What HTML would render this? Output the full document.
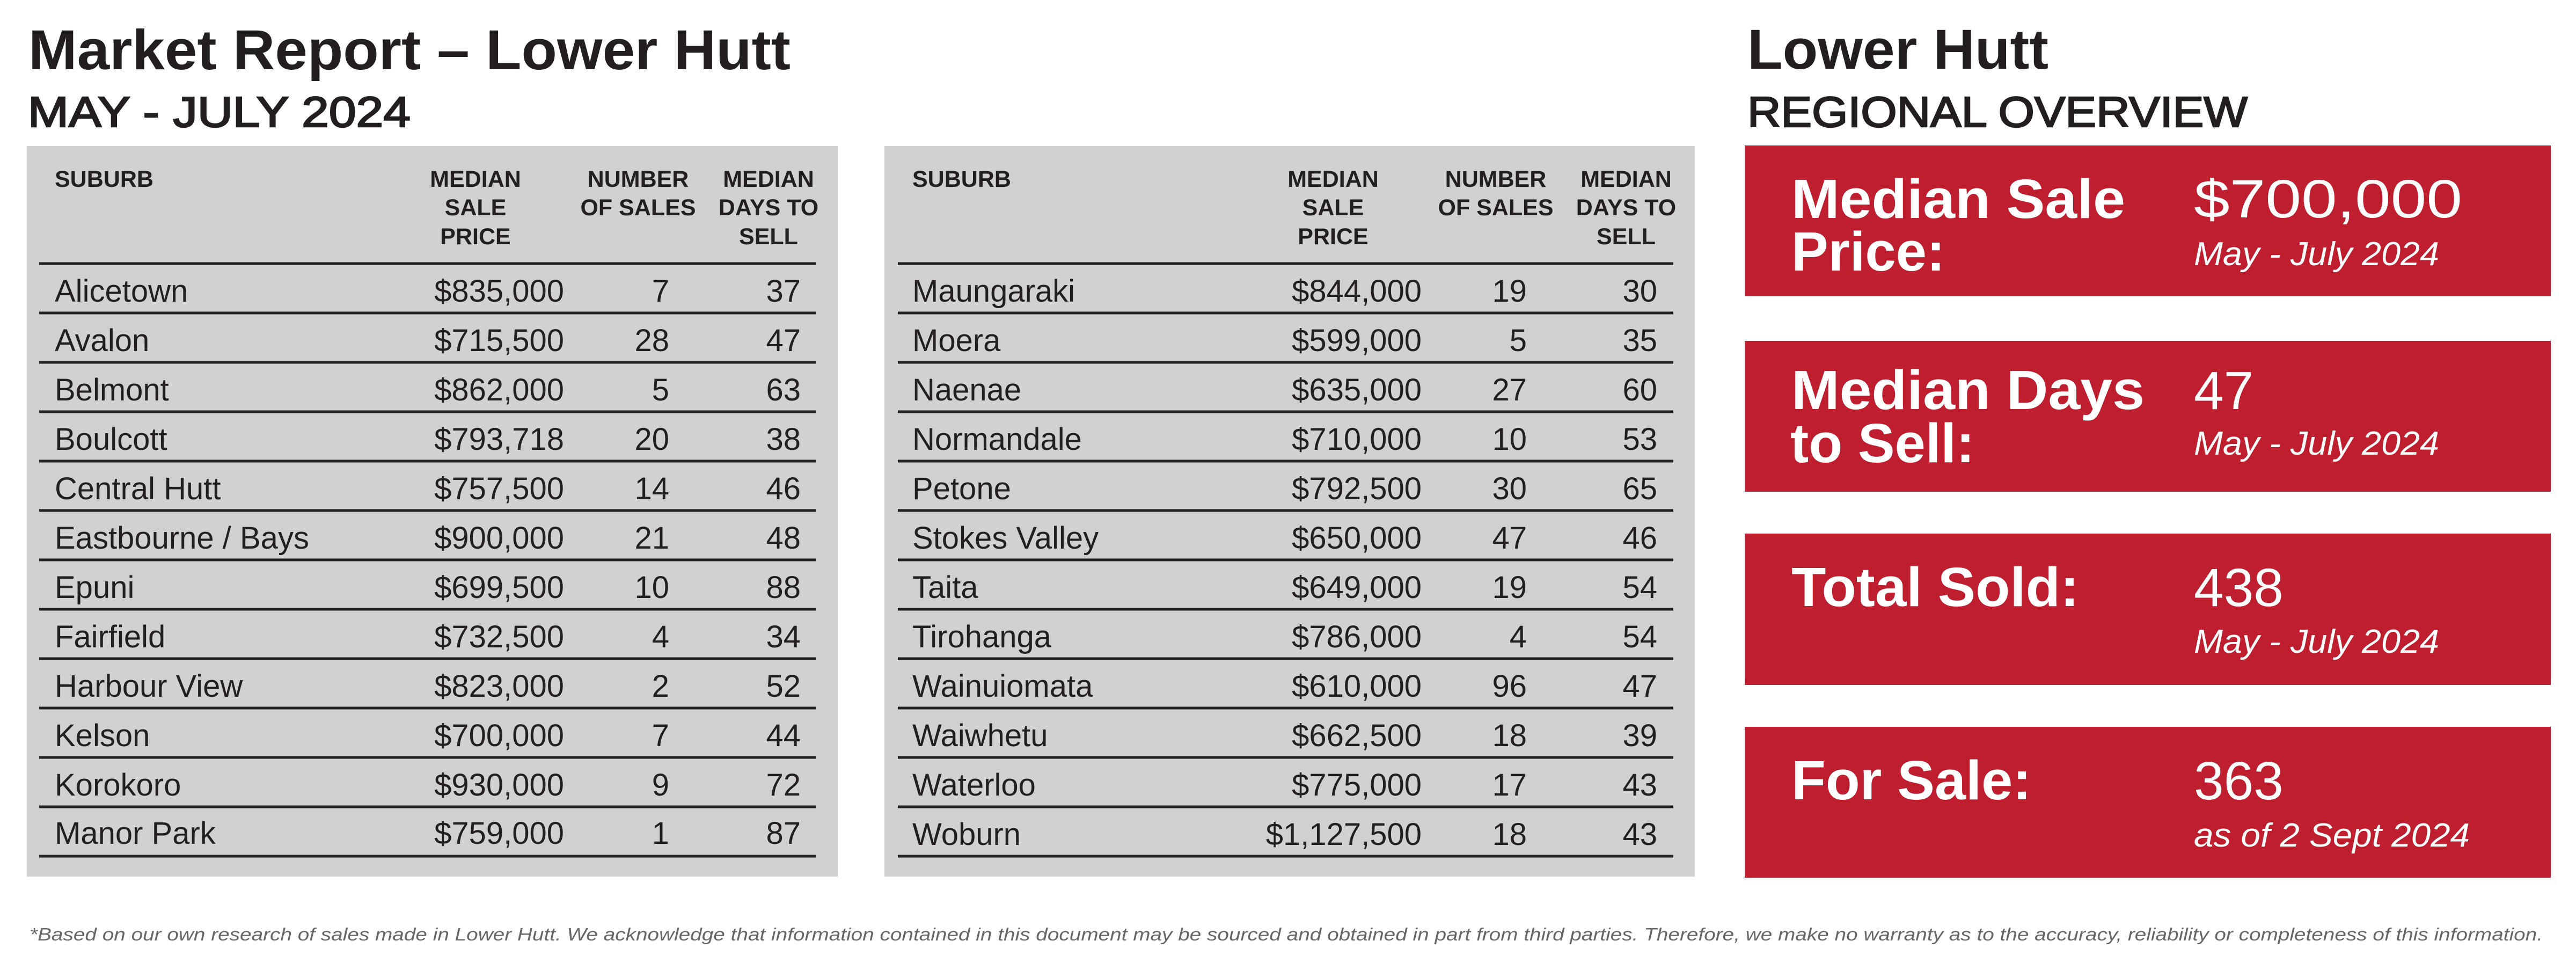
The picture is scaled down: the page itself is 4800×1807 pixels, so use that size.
<!DOCTYPE html>
<html><head><meta charset="utf-8"><style>
html,body{margin:0;padding:0;background:#fff;}
svg{display:block;}
text{font-family:"Liberation Sans",sans-serif;}
</style></head><body>
<svg width="4800" height="1807" viewBox="0 0 4800 1807" xmlns="http://www.w3.org/2000/svg">
<rect width="4800" height="1807" fill="#fff"/>
<g fill="#231f20">
<text x="53" y="129" font-size="105" font-weight="bold" textLength="1420" lengthAdjust="spacingAndGlyphs">Market Report – Lower Hutt</text>
<text x="52" y="236" font-size="80" stroke="#231f20" stroke-width="2.5" textLength="713" lengthAdjust="spacingAndGlyphs">MAY - JULY 2024</text>
<text x="3256" y="128" font-size="105" font-weight="bold" textLength="561" lengthAdjust="spacingAndGlyphs">Lower Hutt</text>
<text x="3256" y="236" font-size="80" stroke="#231f20" stroke-width="2.5" textLength="932" lengthAdjust="spacingAndGlyphs">REGIONAL OVERVIEW</text>
</g>
<rect x="50" y="272" width="1511" height="1361" fill="#d1d1d1"/>
<rect x="1648" y="272" width="1510" height="1361" fill="#d1d1d1"/>
<g fill="#231f20">
<g font-size="43" font-weight="bold">
<text x="102" y="348">SUBURB</text>
<text x="886" y="348" text-anchor="middle">MEDIAN</text>
<text x="886" y="401" text-anchor="middle">SALE</text>
<text x="886" y="455" text-anchor="middle">PRICE</text>
<text x="1189" y="348" text-anchor="middle">NUMBER</text>
<text x="1189" y="401" text-anchor="middle">OF SALES</text>
<text x="1432" y="348" text-anchor="middle">MEDIAN</text>
<text x="1432" y="401" text-anchor="middle">DAYS TO</text>
<text x="1432" y="455" text-anchor="middle">SELL</text>
</g>
<g stroke="#231f20" stroke-width="5">
<line x1="73" x2="1520" y1="491" y2="491"/>
<line x1="73" x2="1520" y1="583" y2="583"/>
<line x1="73" x2="1520" y1="675" y2="675"/>
<line x1="73" x2="1520" y1="767" y2="767"/>
<line x1="73" x2="1520" y1="859" y2="859"/>
<line x1="73" x2="1520" y1="951" y2="951"/>
<line x1="73" x2="1520" y1="1043" y2="1043"/>
<line x1="73" x2="1520" y1="1135" y2="1135"/>
<line x1="73" x2="1520" y1="1227" y2="1227"/>
<line x1="73" x2="1520" y1="1319" y2="1319"/>
<line x1="73" x2="1520" y1="1411" y2="1411"/>
<line x1="73" x2="1520" y1="1503" y2="1503"/>
<line x1="73" x2="1520" y1="1595" y2="1595"/>
</g>
</g>
<g transform="translate(1598,0)" fill="#231f20">
<g font-size="43" font-weight="bold">
<text x="102" y="348">SUBURB</text>
<text x="886" y="348" text-anchor="middle">MEDIAN</text>
<text x="886" y="401" text-anchor="middle">SALE</text>
<text x="886" y="455" text-anchor="middle">PRICE</text>
<text x="1189" y="348" text-anchor="middle">NUMBER</text>
<text x="1189" y="401" text-anchor="middle">OF SALES</text>
<text x="1432" y="348" text-anchor="middle">MEDIAN</text>
<text x="1432" y="401" text-anchor="middle">DAYS TO</text>
<text x="1432" y="455" text-anchor="middle">SELL</text>
</g>
<g stroke="#231f20" stroke-width="5">
<line x1="75" x2="1520" y1="491" y2="491"/>
<line x1="75" x2="1520" y1="583" y2="583"/>
<line x1="75" x2="1520" y1="675" y2="675"/>
<line x1="75" x2="1520" y1="767" y2="767"/>
<line x1="75" x2="1520" y1="859" y2="859"/>
<line x1="75" x2="1520" y1="951" y2="951"/>
<line x1="75" x2="1520" y1="1043" y2="1043"/>
<line x1="75" x2="1520" y1="1135" y2="1135"/>
<line x1="75" x2="1520" y1="1227" y2="1227"/>
<line x1="75" x2="1520" y1="1319" y2="1319"/>
<line x1="75" x2="1520" y1="1411" y2="1411"/>
<line x1="75" x2="1520" y1="1503" y2="1503"/>
<line x1="75" x2="1520" y1="1595" y2="1595"/>
</g>
</g>
<g fill="#231f20" font-size="58">
<g>
<text x="102" y="562">Alicetown</text><text x="1051" y="562" text-anchor="end">$835,000</text><text x="1247" y="562" text-anchor="end">7</text><text x="1492" y="562" text-anchor="end">37</text>
<text x="102" y="654">Avalon</text><text x="1051" y="654" text-anchor="end">$715,500</text><text x="1247" y="654" text-anchor="end">28</text><text x="1492" y="654" text-anchor="end">47</text>
<text x="102" y="746">Belmont</text><text x="1051" y="746" text-anchor="end">$862,000</text><text x="1247" y="746" text-anchor="end">5</text><text x="1492" y="746" text-anchor="end">63</text>
<text x="102" y="838">Boulcott</text><text x="1051" y="838" text-anchor="end">$793,718</text><text x="1247" y="838" text-anchor="end">20</text><text x="1492" y="838" text-anchor="end">38</text>
<text x="102" y="930">Central Hutt</text><text x="1051" y="930" text-anchor="end">$757,500</text><text x="1247" y="930" text-anchor="end">14</text><text x="1492" y="930" text-anchor="end">46</text>
<text x="102" y="1022">Eastbourne / Bays</text><text x="1051" y="1022" text-anchor="end">$900,000</text><text x="1247" y="1022" text-anchor="end">21</text><text x="1492" y="1022" text-anchor="end">48</text>
<text x="102" y="1114">Epuni</text><text x="1051" y="1114" text-anchor="end">$699,500</text><text x="1247" y="1114" text-anchor="end">10</text><text x="1492" y="1114" text-anchor="end">88</text>
<text x="102" y="1206">Fairfield</text><text x="1051" y="1206" text-anchor="end">$732,500</text><text x="1247" y="1206" text-anchor="end">4</text><text x="1492" y="1206" text-anchor="end">34</text>
<text x="102" y="1298">Harbour View</text><text x="1051" y="1298" text-anchor="end">$823,000</text><text x="1247" y="1298" text-anchor="end">2</text><text x="1492" y="1298" text-anchor="end">52</text>
<text x="102" y="1390">Kelson</text><text x="1051" y="1390" text-anchor="end">$700,000</text><text x="1247" y="1390" text-anchor="end">7</text><text x="1492" y="1390" text-anchor="end">44</text>
<text x="102" y="1482">Korokoro</text><text x="1051" y="1482" text-anchor="end">$930,000</text><text x="1247" y="1482" text-anchor="end">9</text><text x="1492" y="1482" text-anchor="end">72</text>
<text x="102" y="1572">Manor Park</text><text x="1051" y="1572" text-anchor="end">$759,000</text><text x="1247" y="1572" text-anchor="end">1</text><text x="1492" y="1572" text-anchor="end">87</text>
</g>
<g transform="translate(1598,0)">
<text x="102" y="562">Maungaraki</text><text x="1051" y="562" text-anchor="end">$844,000</text><text x="1247" y="562" text-anchor="end">19</text><text x="1490" y="562" text-anchor="end">30</text>
<text x="102" y="654">Moera</text><text x="1051" y="654" text-anchor="end">$599,000</text><text x="1247" y="654" text-anchor="end">5</text><text x="1490" y="654" text-anchor="end">35</text>
<text x="102" y="746">Naenae</text><text x="1051" y="746" text-anchor="end">$635,000</text><text x="1247" y="746" text-anchor="end">27</text><text x="1490" y="746" text-anchor="end">60</text>
<text x="102" y="838">Normandale</text><text x="1051" y="838" text-anchor="end">$710,000</text><text x="1247" y="838" text-anchor="end">10</text><text x="1490" y="838" text-anchor="end">53</text>
<text x="102" y="930">Petone</text><text x="1051" y="930" text-anchor="end">$792,500</text><text x="1247" y="930" text-anchor="end">30</text><text x="1490" y="930" text-anchor="end">65</text>
<text x="102" y="1022">Stokes Valley</text><text x="1051" y="1022" text-anchor="end">$650,000</text><text x="1247" y="1022" text-anchor="end">47</text><text x="1490" y="1022" text-anchor="end">46</text>
<text x="102" y="1114">Taita</text><text x="1051" y="1114" text-anchor="end">$649,000</text><text x="1247" y="1114" text-anchor="end">19</text><text x="1490" y="1114" text-anchor="end">54</text>
<text x="102" y="1206">Tirohanga</text><text x="1051" y="1206" text-anchor="end">$786,000</text><text x="1247" y="1206" text-anchor="end">4</text><text x="1490" y="1206" text-anchor="end">54</text>
<text x="102" y="1298">Wainuiomata</text><text x="1051" y="1298" text-anchor="end">$610,000</text><text x="1247" y="1298" text-anchor="end">96</text><text x="1490" y="1298" text-anchor="end">47</text>
<text x="102" y="1390">Waiwhetu</text><text x="1051" y="1390" text-anchor="end">$662,500</text><text x="1247" y="1390" text-anchor="end">18</text><text x="1490" y="1390" text-anchor="end">39</text>
<text x="102" y="1482">Waterloo</text><text x="1051" y="1482" text-anchor="end">$775,000</text><text x="1247" y="1482" text-anchor="end">17</text><text x="1490" y="1482" text-anchor="end">43</text>
<text x="102" y="1574">Woburn</text><text x="1051" y="1574" text-anchor="end">$1,127,500</text><text x="1247" y="1574" text-anchor="end">18</text><text x="1490" y="1574" text-anchor="end">43</text>
</g>
</g>
<g fill="#be1e2d">
<rect x="3251" y="271" width="1502" height="281"/>
<rect x="3251" y="635" width="1502" height="281"/>
<rect x="3251" y="994" width="1502" height="282"/>
<rect x="3251" y="1354" width="1502" height="281"/>
</g>
<g fill="#fff">
<g font-size="103" font-weight="bold">
<text x="3338" y="406" textLength="622" lengthAdjust="spacingAndGlyphs">Median Sale</text>
<text x="3338" y="504">Price:</text>
<text x="3338" y="762" textLength="658" lengthAdjust="spacingAndGlyphs">Median Days</text>
<text x="3336" y="861">to Sell:</text>
<text x="3338" y="1129" textLength="536" lengthAdjust="spacingAndGlyphs">Total Sold:</text>
<text x="3338" y="1489" textLength="447" lengthAdjust="spacingAndGlyphs">For Sale:</text>
</g>
<g font-size="100">
<text x="4088" y="405" textLength="500" lengthAdjust="spacingAndGlyphs">$700,000</text>
<text x="4088" y="762">47</text>
<text x="4088" y="1129">438</text>
<text x="4088" y="1489">363</text>
</g>
<g font-size="62" font-style="italic">
<text x="4088" y="494" textLength="457" lengthAdjust="spacingAndGlyphs">May - July 2024</text>
<text x="4088" y="847" textLength="457" lengthAdjust="spacingAndGlyphs">May - July 2024</text>
<text x="4088" y="1216" textLength="457" lengthAdjust="spacingAndGlyphs">May - July 2024</text>
<text x="4088" y="1577" textLength="514" lengthAdjust="spacingAndGlyphs">as of 2 Sept 2024</text>
</g>
</g>
<text x="55" y="1752" font-size="33" font-style="italic" fill="#666" textLength="4683" lengthAdjust="spacingAndGlyphs">*Based on our own research of sales made in Lower Hutt. We acknowledge that information contained in this document may be sourced and obtained in part from third parties. Therefore, we make no warranty as to the accuracy, reliability or completeness of this information.</text>
</svg>
</body></html>
